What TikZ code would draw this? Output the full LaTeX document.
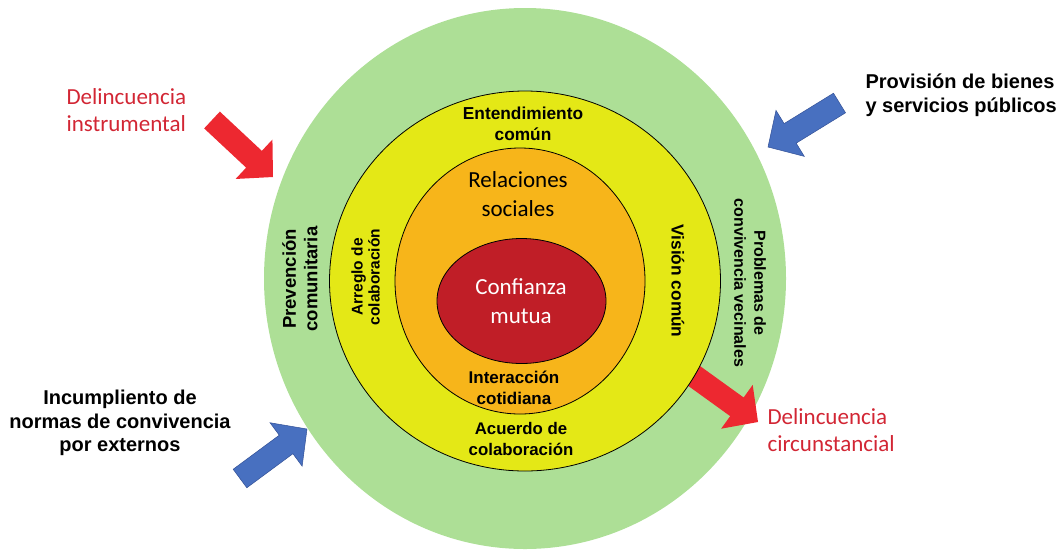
\documentclass[tikz,border=0pt]{standalone}
\usepackage{fontspec}
\setmainfont{Carlito}
\newfontfamily\arialf{Liberation Sans}
\usetikzlibrary{calc}
\definecolor{cgreen}{RGB}{173,223,150}
\definecolor{cyellow}{RGB}{228,232,22}
\definecolor{corange}{RGB}{247,181,26}
\definecolor{cred}{RGB}{192,30,39}
\definecolor{carrowred}{RGB}{237,40,48}
\definecolor{cblue}{RGB}{72,112,192}
\definecolor{cblueline}{RGB}{50,80,150}
\definecolor{ctextred}{RGB}{210,38,52}
\newcommand\fsz[2]{\fontsize{#1}{#2}\selectfont}
% block arrow: #1 style, #2 tail, #3 tip
\newcommand\blkarrow[3]{%
  \coordinate (H) at ($(#3)!26pt!(#2)$);
  \path[#1] ($(#2)!11.5pt!90:(#3)$) -- ($(H)!11.5pt!-90:(#2)$) -- ($(H)!27pt!-90:(#2)$)
    -- (#3) -- ($(H)!27pt!90:(#2)$) -- ($(H)!11.5pt!90:(#2)$) -- ($(#2)!11.5pt!-90:(#3)$) -- cycle;}
\begin{document}
\begin{tikzpicture}[x=1pt,y=-1pt,
  ring/.style={draw=black, line width=0.8pt},
  boldtxt/.style={font=\arialf\bfseries, align=center, text=black},
  caltxt/.style={align=center},
  redarrow/.style={fill=carrowred},
  bluearrow/.style={fill=cblue, draw=cblueline, line width=0.5pt}]
\useasboundingbox (0,0) rectangle (1060,550);
% outer green ring
\fill[cgreen] (525,278.5) ellipse [x radius=261pt, y radius=270.5pt];
% circumstancial arrow (starts under yellow ring)
\coordinate (t4) at (672,360);
\coordinate (p4) at (758,422);
\blkarrow{redarrow}{t4}{p4}
% inner rings
\path[ring, fill=cyellow] (525,281) ellipse [x radius=195.5pt, y radius=190pt];
\path[ring, fill=corange] (520,281) ellipse [x radius=125pt, y radius=133pt];
\path[ring, fill=cred] (521.5,301) ellipse [x radius=84.5pt, y radius=62.5pt];
% other arrows
\coordinate (t1) at (212,120);
\coordinate (p1) at (273,177);
\blkarrow{redarrow}{t1}{p1}
\coordinate (t2) at (839.5,103);
\coordinate (p2) at (768,147);
\blkarrow{bluearrow}{t2}{p2}
\coordinate (t3) at (240,478.5);
\coordinate (p3) at (307,429);
\blkarrow{bluearrow}{t3}{p3}
% inner texts
\node[boldtxt, font=\arialf\bfseries\fsz{17.3}{21}] (ent) at (523,124) {Entendimiento\\común};
\node[caltxt, font=\fsz{23}{29}] (rel) at (518,194) {Relaciones\\sociales};
\node[caltxt, font=\fsz{23}{28.5}, text=white] (conf) at (521,301) {Confianza\\mutua};
\node[boldtxt, font=\arialf\bfseries\fsz{17}{21}] (inter) at (514,388) {Interacción\\cotidiana};
\node[boldtxt, font=\arialf\bfseries\fsz{16.8}{20.5}] (acu) at (521,439) {Acuerdo de\\colaboración};
\node[boldtxt, font=\arialf\bfseries\fsz{18.5}{21.5}, rotate=90] (prev) at (300,279) {Prevención\\comunitaria};
\node[boldtxt, font=\arialf\bfseries\fsz{15.5}{17}, rotate=90] (arr) at (365.5,277) {Arreglo de\\colaboración};
\node[boldtxt, font=\arialf\bfseries\fsz{17.3}{20}, rotate=-90] (vis) at (678,281) {Visión común};
\node[boldtxt, font=\arialf\bfseries\fsz{16}{20}, rotate=-90] (prob) at (750,283) {Problemas de\\convivencia vecinales};
% outer texts
\node[caltxt, align=left, anchor=west, text=ctextred, font=\fsz{23}{27}] (dinst) at (63,110) {Delincuencia\\instrumental};
\node[boldtxt, align=left, anchor=west, font=\arialf\bfseries\fsz{20}{24.5}] (prov) at (862,95) {Provisión de bienes\\y servicios públicos};
\node[boldtxt, font=\arialf\bfseries\fsz{20}{23.5}] (inc) at (120,423) {Incumpliento de\\normas de convivencia\\por externos};
\node[caltxt, align=left, anchor=west, text=ctextred, font=\fsz{23}{27}] (dcirc) at (764,430) {Delincuencia\\circunstancial};
\end{tikzpicture}
\end{document}
